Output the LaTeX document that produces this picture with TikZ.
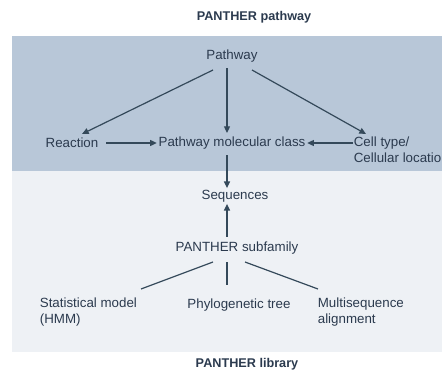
\documentclass[tikz,border=0pt]{standalone}
\usepackage{fontspec}
\setmainfont{Liberation Sans}
\usetikzlibrary{arrows.meta, positioning}

\definecolor{bandtop}{HTML}{B8C7D8}
\definecolor{bandlow}{HTML}{EEF1F5}
\definecolor{inktext}{HTML}{2B3A4E}
\definecolor{inkline}{HTML}{34495A}

\begin{document}
\begin{tikzpicture}[x=0.75pt, y=-0.75pt, thick,
    every node/.style={text=inktext, font=\fontsize{10}{12}\selectfont, inner sep=1pt},
    title/.style={font=\fontsize{9.5}{11}\selectfont\bfseries},
    arr/.style={draw=inkline, line width=0.9pt, -{Triangle[length=5pt, width=4.5pt]}},
    lnk/.style={draw=inkline, line width=0.9pt}]

    \useasboundingbox (0,0) rectangle (442,371);

    % Bands
    \fill[bandtop] (12,36) rectangle (442,171);
    \fill[bandlow] (12,171) rectangle (442,352);

    % Titles
    \node[title] (ttop) at (254,17) {PANTHER pathway};
    \node[title] (tbot) at (247,364) {PANTHER library};

    % Nodes
    \node (pathway) at (232,56) {Pathway};
    \node (reaction) at (72,143) {Reaction};
    \node (pmc) at (232,143) {Pathway molecular class};
    \node[anchor=west, align=left] (cell) at (352,150) {Cell type/\\Cellular location};
    \node (seq) at (235,196) {Sequences};
    \node (subfam) at (237,248) {PANTHER subfamily};
    \node[anchor=west, align=left] (stat) at (38,312) {Statistical model\\(HMM)};
    \node (phylo) at (239,305) {Phylogenetic tree};
    \node[anchor=west, align=left] (multi) at (316,312) {Multisequence\\alignment};

    % Edges
    \draw[arr] (213,70) to (82,134);
    \draw[arr] (pathway.south -| 227,0) ++(0,4) to (227,133);
    \draw[arr] (252,70) to (366,134);
    \draw[arr] (reaction.east) ++(6,0) to (pmc.west);
    \draw[arr] (cell.west |- pmc) ++(1,0) to (pmc.east);
    \draw[arr] (pmc.south -| 227,0) ++(0,4) to (seq.north -| 227,0);
    \draw[arr] (subfam.north -| 227,0) ++(0,-3) to (seq.south -| 227,0);
    \draw[lnk] (213,262) to (141,289);
    \draw[lnk] (227,262) to (227,285);
    \draw[lnk] (245,262) to (318,289);

\end{tikzpicture}
\end{document}
